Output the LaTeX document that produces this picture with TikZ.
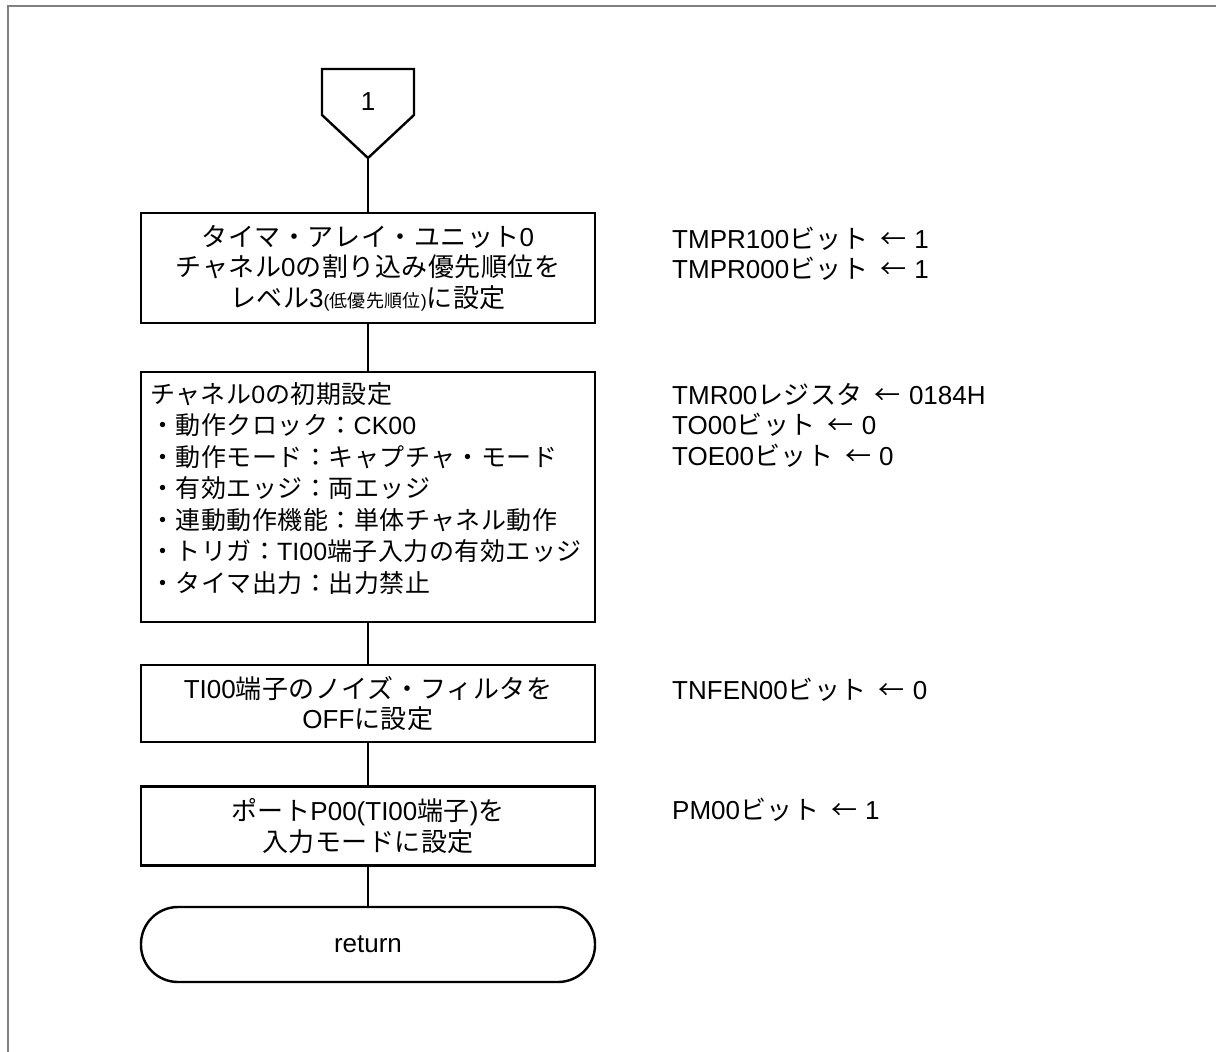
\documentclass[tikz,border=0pt]{standalone}
\usepackage{fontspec}
\setmainfont{Liberation Sans}
\newfontfamily\jfont[LetterSpace=2]{Noto Sans CJK JP}
% Japanese characters switch to the CJK font
\XeTeXinterchartokenstate=1
\newXeTeXintercharclass\jclass
\newcount\jc
\jc="3000 \loop \XeTeXcharclass\jc=\jclass \advance\jc 1 \ifnum\jc<"3100 \repeat
\jc="4E00 \loop \XeTeXcharclass\jc=\jclass \advance\jc 1 \ifnum\jc<"A000 \repeat
\jc="FF00 \loop \XeTeXcharclass\jc=\jclass \advance\jc 1 \ifnum\jc<"FFF0 \repeat
\XeTeXcharclass"2190=\jclass
\XeTeXinterchartoks 0 \jclass = {\jfont}
\XeTeXinterchartoks 4095 \jclass = {\jfont}
\XeTeXinterchartoks \jclass 0 = {\rmfamily}
\XeTeXinterchartoks 4095 0 = {\rmfamily}
\newcommand\larr{\hspace{12pt}←\hspace{8pt}}

\begin{document}
\begin{tikzpicture}[x=1pt,y=-1pt,
                    every node/.style={font=\fontsize{26}{30.5}\selectfont},
                    box/.style={draw,line width=2.4pt,minimum width=454pt,
                                align=center,inner sep=0pt},
                    term/.style={box,rounded corners=37pt},
                    link/.style={line width=2pt},
                    note/.style={anchor=west,align=left,inner sep=0pt}]
  \clip (0,0) rectangle (1216,1052);
  % frame
  \draw [gray,line width=2pt] (8,1100) -- (8,6) -- (1300,6);

  % off-page connector
  \draw [line width=2.4pt] (322,69) -- (414,69) -- (414,115) -- (368,158)
        -- (322,115) -- cycle;
  \node (con) at (368,102) {1};
  \coordinate (contip) at (368,158);

  \node[box,minimum height=110pt] (init) at (368,268)
       {タイマ・アレイ・ユニット0\\チャネル0の割り込み優先順位を\\
        レベル3{\fontsize{18}{30}\selectfont(低優先順位)}に設定};
  \node[box,minimum height=250pt] (chan) at (368,497) {};
  \node[note,anchor=north west,font=\fontsize{25}{31.5}\selectfont]
       (chantxt) at (150,382)
       {チャネル0の初期設定\\
        ・動作クロック：CK00\\
        ・動作モード：キャプチャ・モード\\
        ・有効エッジ：両エッジ\\
        ・連動動作機能：単体チャネル動作\\
        ・トリガ：TI00端子入力の有効エッジ\\
        ・タイマ出力：出力禁止};
  \node[box,minimum height=77pt] (nfen) at (368,703.5)
       {TI00端子のノイズ・フィルタを\\OFFに設定};
  \node[box,minimum height=79pt] (port) at (368,826)
       {ポートP00(TI00端子)を\\入力モードに設定};
  \node[term,minimum height=75pt] (ret) at (368,944.5) {return};

  \path[link] (contip) edge (init)
              (init) edge (chan)
              (chan) edge (nfen)
              (nfen) edge (port)
              (port) edge (ret);

  % register settings
  \node[note] (r1) at (672,254) {TMPR100ビット\larr 1\\TMPR000ビット\larr 1};
  \node[note] (r2) at (672,425) {TMR00レジスタ\larr 0184H\\TO00ビット\larr 0\\TOE00ビット\larr 0};
  \node[note] (r3) at (672,690) {TNFEN00ビット\larr 0};
  \node[note] (r4) at (672,810) {PM00ビット\larr 1};
\end{tikzpicture}
\end{document}
